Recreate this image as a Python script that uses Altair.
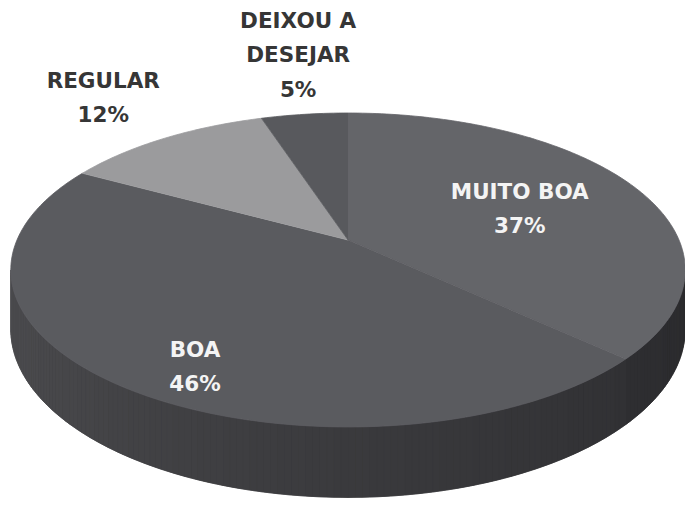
import math
import pandas as pd
import altair as alt

# ---- data ----
categories = ["MUITO BOA", "BOA", "REGULAR", "DEIXOU A DESEJAR"]
values = [37, 46, 12, 5]
name_lines = [["MUITO BOA"], ["BOA"], ["REGULAR"], ["DEIXOU A", "DESEJAR"]]

# ---- style ----
top_colors = ["#646569", "#5a5b5f", "#9b9b9d", "#58595d"]
label_colors = ["#f4f4f4", "#f4f4f4", "#363636", "#363636"]
# label anchor (angle clockwise from 12 o'clock, radius factor)
label_anchor = [(67.8, 0.584), (209.0, 0.822), (322.0, 1.466), (353.0, 1.614)]
LINE_H = 34.5
FONT = "DejaVu Sans"
FSIZE = 21.5

# perspective projection of the pie disc
CX, E, A, B, C = 348.0, 331.0, 240.0, 105.4, -0.191
D0 = 57.0  # thickness


def proj(phi_deg, r=1.0, depth=False):
    p = math.radians(phi_deg)
    u = r * math.sin(p)
    v = -r * math.cos(p)
    den = 1 + C * v
    x = CX + E * u / den
    y = (A + B * v) / den
    if depth:
        y += D0 / den
    return x, y


total = sum(values)
starts, ends = [], []
acc = 0.0
for v in values:
    starts.append(acc / total * 360)
    acc += v
    ends.append(acc / total * 360)

# ---- top face polygons ----
top_rows = []
for k, cat in enumerate(categories):
    pts = [proj(0, 0)]
    a0, a1 = starts[k], ends[k]
    n = max(2, int(math.ceil(a1 - a0)))
    for j in range(n + 1):
        pts.append(proj(a0 + (a1 - a0) * j / n))
    for i, (x, y) in enumerate(pts):
        top_rows.append({"pid": f"t{k}", "i": i, "x": x, "y": y, "col": top_colors[k]})
top_df = pd.DataFrame(top_rows)

# ---- side (visible front rim) ----
phi_r = math.degrees(math.acos(C))
phi_l = 360 - phi_r


def side_gray(phi):
    b = ends[0]
    if phi < b:
        t = (phi - phi_r) / (b - phi_r)
        return 0x2a + t * (0x2e - 0x2a)
    if phi < 180:
        t = (phi - b) / (180 - b)
        return 0x31 + t * (0x3a - 0x31)
    t = (phi - 180) / (phi_l - 180)
    return 0x3a + t * (0x4e - 0x3a)


nstrip = int(math.ceil(phi_l - phi_r))

# one solid base under the strips, so no seams show
base_rows = []
top_arc = [proj(phi_r + (phi_l - phi_r) * s / nstrip) for s in range(nstrip + 1)]
bot_arc = [proj(phi_r + (phi_l - phi_r) * s / nstrip, depth=True) for s in range(nstrip + 1)]
for i, (x, y) in enumerate(top_arc + bot_arc[::-1]):
    base_rows.append({"pid": "base", "i": i, "x": x, "y": y, "col": "#38383b"})
base_df = pd.DataFrame(base_rows)

side_rows = []
for s in range(nstrip):
    a0 = phi_r + (phi_l - phi_r) * s / nstrip
    a1 = phi_r + (phi_l - phi_r) * (s + 1) / nstrip
    g = int(round(side_gray((a0 + a1) / 2)))
    col = "#%02x%02x%02x" % (g, g, min(255, g + 3))
    pts = [proj(a0), proj(a1), proj(a1, depth=True), proj(a0, depth=True)]
    for i, (x, y) in enumerate(pts):
        side_rows.append({"pid": f"s{s}", "i": i, "x": x, "y": y, "col": col})
side_df = pd.DataFrame(side_rows)

# ---- labels ----
lab_rows = []
for k, cat in enumerate(categories):
    lines = name_lines[k] + [f"{values[k]}%"]
    ax, ay = proj(label_anchor[k][0], label_anchor[k][1])
    n = len(lines)
    for i, t in enumerate(lines):
        lab_rows.append({"text": t, "x": ax, "y": ay + (i - (n - 1) / 2) * LINE_H,
                         "col": label_colors[k]})
lab_df = pd.DataFrame(lab_rows)

W, H = 685, 507
xs = alt.Scale(domain=[0, W], nice=False, zero=False)
ys = alt.Scale(domain=[0, H], nice=False, zero=False, reverse=True)


def poly_layer(df, sw=1):
    return alt.Chart(df).mark_line(filled=True, strokeWidth=sw).encode(
        x=alt.X("x:Q", scale=xs, axis=None),
        y=alt.Y("y:Q", scale=ys, axis=None),
        order=alt.Order("i:Q"),
        detail="pid:N",
        color=alt.Color("col:N", scale=None),
        stroke=alt.Stroke("col:N", scale=None),
    )


base = poly_layer(base_df, 0.5)
side = poly_layer(side_df, 0.6)
top = poly_layer(top_df, 0.8)

labels = alt.Chart(lab_df).mark_text(
    font=FONT, fontSize=FSIZE, fontWeight="bold", align="center",
    baseline="alphabetic", dy=8
).encode(
    x=alt.X("x:Q", scale=xs, axis=None),
    y=alt.Y("y:Q", scale=ys, axis=None),
    text="text:N",
    color=alt.Color("col:N", scale=None),
)

chart = alt.layer(base, side, top, labels).properties(
    width=W, height=H, autosize=alt.AutoSizeParams(type="none"), padding=0,
    background="white"
).configure_view(stroke=None)

chart.save("out.html", embed_options={"renderer": "svg", "actions": False})
